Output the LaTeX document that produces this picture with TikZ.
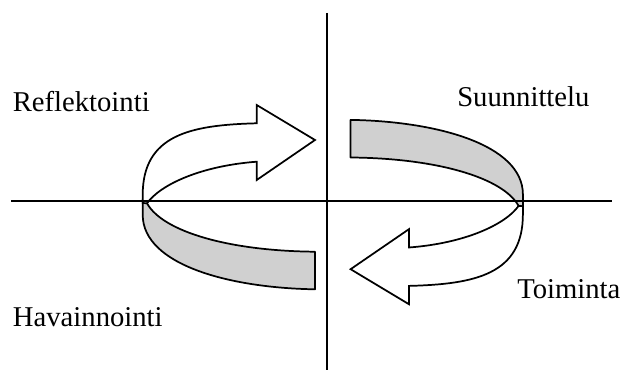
\documentclass[tikz,border=0pt]{standalone}
\usepackage{fontspec}
\setmainfont{Liberation Serif}
\definecolor{bandgray}{RGB}{208,208,208}
\begin{document}
\begin{tikzpicture}[x=0.75pt,y=-0.75pt,
  axis/.style={line width=1.5pt},
  band/.style={draw=black,fill=bandgray,line width=1.3pt,line join=round},
  arrowshape/.style={draw=black,fill=white,line width=1.3pt,line join=miter},
  lbl/.style={anchor=base west,inner sep=0pt,font=\fontsize{21.5}{25}\selectfont}]
\useasboundingbox (0,0) rectangle (627,370);
% half of the ring (left) and its 180 degree copy (right)
\foreach \ang/\nm in {0/L,180/R}{
\begin{scope}[rotate around={\ang:(332.8,204.6)}]
  \path[band] (142.7,199) -- (142.7,215)
     .. controls (143,265) and (230,288) .. (315,289.3)
     -- (315,251.7)
     .. controls (230,251) and (163,232) .. (147,203.3) -- cycle;
  \path[arrowshape] (142.7,203) -- (142.7,195)
     .. controls (142.7,135) and (190,125) .. (256.7,123.3)
     -- (256.7,105) -- (315,140) -- (256.7,180) -- (256.7,161.7)
     .. controls (200,166) and (160,185) .. (147,203.3) -- cycle;
\end{scope}}
% axes
\coordinate (vt) at (326.5,13);
\coordinate (vb) at (326.5,370);
\coordinate (hl) at (11,201);
\coordinate (hr) at (612,201);
\draw[axis] (vt) -- (vb);
\draw[axis] (hl) -- (hr);
% labels
\node[lbl] (refl) at (12.5,112) {Reflektointi};
\node[lbl] (suun) at (457,106.7) {Suunnittelu};
\node[lbl] (toim) at (517,298.3) {Toiminta};
\node[lbl] (hava) at (12.7,326.7) {Havainnointi};
\end{tikzpicture}
\end{document}
